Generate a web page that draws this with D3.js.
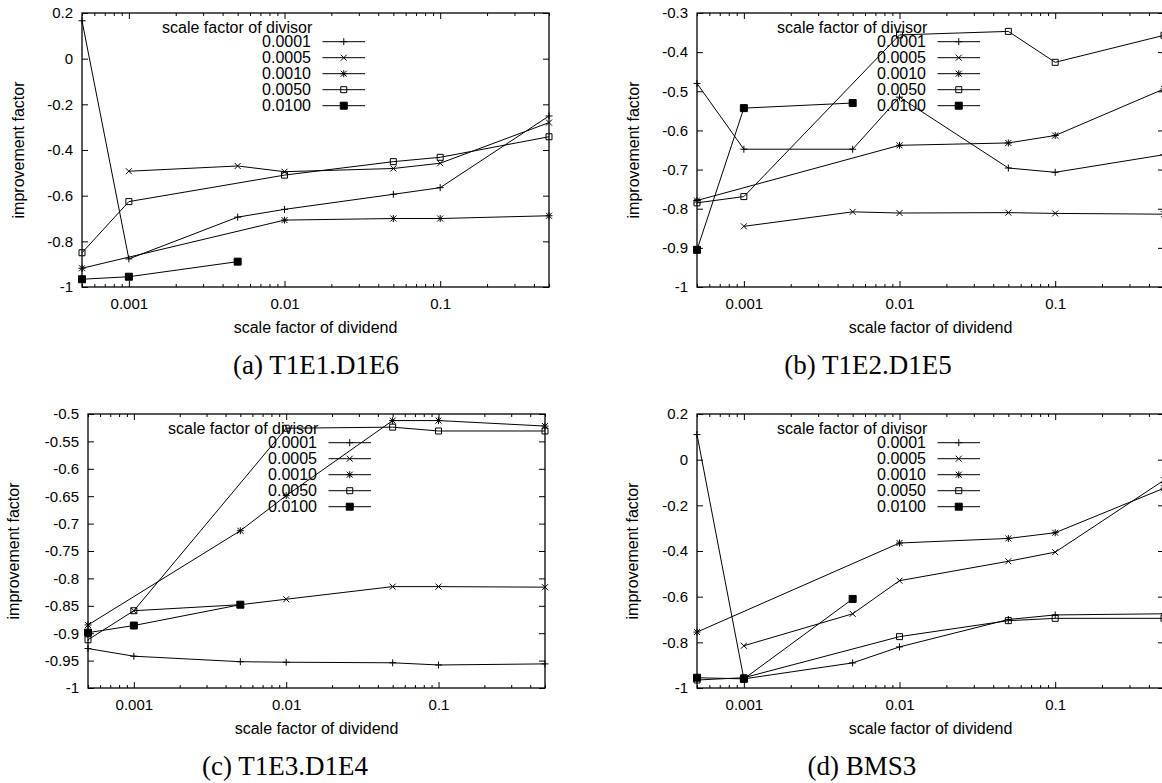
<!DOCTYPE html>
<html>
<head>
<meta charset="utf-8">
<script src="https://cdn.jsdelivr.net/npm/d3@7"></script>
<style>
  body { margin: 0; background: #fff; }
  svg { display: block; }
  text { font-family: "Liberation Sans", Arial, sans-serif; fill: #000; }
  .caption { font-family: "Liberation Serif", "Times New Roman", serif; }
</style>
</head>
<body>
<script>
// scale factor of dividend (x, log scale)
var dividend = [0.0005, 0.001, 0.005, 0.01, 0.05, 0.1, 0.5];
var xTickLabels = [0.001, 0.01, 0.1];
// legend: scale factor of divisor
var divisorLabels = ["0.0001", "0.0005", "0.0010", "0.0050", "0.0100"];

// improvement factor, one row per divisor, null = no point
var t1e1d1e6 = [
  [0.166, -0.877, -0.694, -0.66, -0.594, -0.565, -0.251],
  [null, -0.493, -0.47, -0.495, -0.481, -0.458, -0.28],
  [-0.918, null, null, -0.707, -0.70, -0.70, -0.688],
  [-0.85, -0.626, null, -0.51, -0.451, -0.432, -0.342],
  [-0.966, -0.955, -0.889, null, null, null, null]
];
var t1e2d1e5 = [
  [-0.48, -0.648, -0.648, -0.515, -0.696, -0.707, -0.662],
  [null, -0.845, -0.808, -0.811, -0.81, -0.812, -0.814],
  [-0.779, null, null, -0.638, -0.632, -0.613, -0.494],
  [-0.785, -0.769, null, -0.356, -0.347, -0.426, -0.357],
  [-0.905, -0.543, -0.53, null, null, null, null]
];
var t1e3d1e4 = [
  [-0.928, -0.942, -0.952, -0.953, -0.954, -0.958, -0.956],
  [null, -0.859, -0.848, -0.838, -0.815, -0.815, -0.816],
  [-0.885, null, -0.713, -0.649, -0.512, -0.512, -0.522],
  [-0.912, -0.859, null, -0.526, -0.524, -0.531, -0.531],
  [-0.899, -0.886, -0.848, null, null, null, null]
];
var bms3 = [
  [0.11, -0.96, -0.89, -0.82, -0.70, -0.68, -0.675],
  [null, -0.815, -0.675, -0.53, -0.445, -0.405, -0.09],
  [-0.755, null, null, -0.365, -0.345, -0.32, -0.125],
  [-0.965, -0.955, null, -0.775, -0.705, -0.695, -0.695],
  [-0.955, -0.96, -0.61, null, null, null, null]
];

var yTicksA = [0.2, 0, -0.2, -0.4, -0.6, -0.8, -1];
var yTicksB = [-0.3, -0.4, -0.5, -0.6, -0.7, -0.8, -0.9, -1];
var yTicksC = [-0.5, -0.55, -0.6, -0.65, -0.7, -0.75, -0.8, -0.85, -0.9, -0.95, -1];
var yTicksD = [0.2, 0, -0.2, -0.4, -0.6, -0.8, -1];

var captions = ["(a) T1E1.D1E6", "(b) T1E2.D1E5", "(c) T1E3.D1E4", "(d) BMS3"];

var svg = d3.select("body").append("svg")
    .attr("width", 1162)
    .attr("height", 783);

// gnuplot style point types
var markerPath = [
  "M-3.5,0H3.5M0,-3.5V3.5",
  "M-3,-3L3,3M-3,3L3,-3",
  "M-3.5,0H3.5M0,-3.5V3.5M-3,-3L3,3M-3,3L3,-3",
  "M-3,-3H3V3H-3Z",
  "M-3.5,-3.5H3.5V3.5H-3.5Z"
];

function drawMarker(g, i, px, py) {
  g.append("path")
    .attr("d", markerPath[i])
    .attr("transform", "translate(" + px + "," + py + ")")
    .attr("fill", i == 4 ? "#000" : "none")
    .attr("stroke", "#000")
    .attr("stroke-width", 1);
}

function panel(p) {
  var x = d3.scaleLog().domain([dividend[0], dividend[dividend.length - 1]]).range([p.left, p.right]);
  var y = d3.scaleLinear().domain([p.yTicks[p.yTicks.length - 1], p.yTicks[0]]).range([p.bottom, p.top]);
  var g = svg.append("g");

  var minor = x.ticks().filter(function(t) {
    var l = Math.log10(t);
    return Math.abs(l - Math.round(l)) > 1e-6;
  });

  g.append("g").attr("transform", "translate(0," + p.bottom + ")")
    .call(d3.axisBottom(x).tickValues(minor).tickSize(-3).tickFormat(""));
  g.append("g").attr("transform", "translate(0," + p.top + ")")
    .call(d3.axisTop(x).tickValues(minor).tickSize(-3).tickFormat(""));
  g.append("g").attr("class", "xmaj").attr("transform", "translate(0," + p.bottom + ")")
    .call(d3.axisBottom(x).tickValues(xTickLabels).tickSize(-6).tickPadding(11).tickFormat(function(d) { return String(d); }));
  g.append("g").attr("transform", "translate(0," + p.top + ")")
    .call(d3.axisTop(x).tickValues(xTickLabels).tickSize(-6).tickFormat(""));
  g.append("g").attr("transform", "translate(" + p.left + ",0)")
    .call(d3.axisLeft(y).tickValues(p.yTicks).tickSize(-6).tickPadding(9).tickFormat(function(d) { return String(d); }));
  g.append("g").attr("transform", "translate(" + p.right + ",0)")
    .call(d3.axisRight(y).tickValues(p.yTicks).tickSize(-6).tickFormat(""));

  g.selectAll(".domain").remove();
  g.selectAll(".tick line").attr("stroke", "#000");
  g.selectAll(".tick text").attr("font-size", 15).attr("fill", "#000")
    .attr("font-family", "'Liberation Sans', Arial, sans-serif");

  g.append("rect")
    .attr("x", p.left).attr("y", p.top)
    .attr("width", p.right - p.left).attr("height", p.bottom - p.top)
    .attr("fill", "none").attr("stroke", "#000").attr("stroke-width", 1.3);

  // legend
  var lg = g.append("g");
  lg.append("text")
    .attr("x", p.left + 80).attr("y", p.top + 14).attr("dy", "0.35em")
    .attr("font-size", 16)
    .text("scale factor of divisor");
  divisorLabels.forEach(function(lab, i) {
    var ly = p.top + 28.7 + 16 * i;
    lg.append("text")
      .attr("x", p.left + 229).attr("y", ly).attr("dy", "0.35em")
      .attr("text-anchor", "end").attr("font-size", 16)
      .text(lab);
    lg.append("line")
      .attr("x1", p.left + 240.5).attr("x2", p.left + 283)
      .attr("y1", ly).attr("y2", ly)
      .attr("stroke", "#000");
    drawMarker(lg, i, p.left + 261.75, ly);
  });

  // series
  var line = d3.line().x(function(d) { return x(d[0]); }).y(function(d) { return y(d[1]); });
  p.values.forEach(function(vals, i) {
    var pts = dividend.map(function(d, k) { return [d, vals[k]]; })
      .filter(function(d) { return d[1] != null; });
    g.append("path")
      .attr("d", line(pts))
      .attr("fill", "none")
      .attr("stroke", "#000")
      .attr("stroke-width", 1);
    pts.forEach(function(d) { drawMarker(g, i, x(d[0]), y(d[1])); });
  });

  // axis titles
  g.append("text")
    .attr("x", (p.left + p.right) / 2).attr("y", p.bottom + 40).attr("dy", "0.35em")
    .attr("text-anchor", "middle").attr("font-size", 16)
    .text("scale factor of dividend");
  g.append("text")
    .attr("transform", "translate(" + (p.left - p.yTitle) + "," + ((p.top + p.bottom) / 2) + ") rotate(-90)")
    .attr("dy", "0.35em")
    .attr("text-anchor", "middle").attr("font-size", 16)
    .text("improvement factor");

  g.append("text")
    .attr("class", "caption")
    .attr("x", p.captionX).attr("y", p.bottom + 87)
    .attr("text-anchor", "middle").attr("font-size", 27)
    .text(p.caption);
}

panel({left: 82, right: 549, top: 13, bottom: 287, yTicks: yTicksA, values: t1e1d1e6, caption: captions[0], captionX: 316, yTitle: 64});
panel({left: 697, right: 1164, top: 13, bottom: 287, yTicks: yTicksB, values: t1e2d1e5, caption: captions[1], captionX: 868, yTitle: 64});
panel({left: 88, right: 545, top: 414, bottom: 688, yTicks: yTicksC, values: t1e3d1e4, caption: captions[2], captionX: 285, yTitle: 75});
panel({left: 697, right: 1164, top: 414, bottom: 688, yTicks: yTicksD, values: bms3, caption: captions[3], captionX: 862, yTitle: 65});
</script>
</body>
</html>
